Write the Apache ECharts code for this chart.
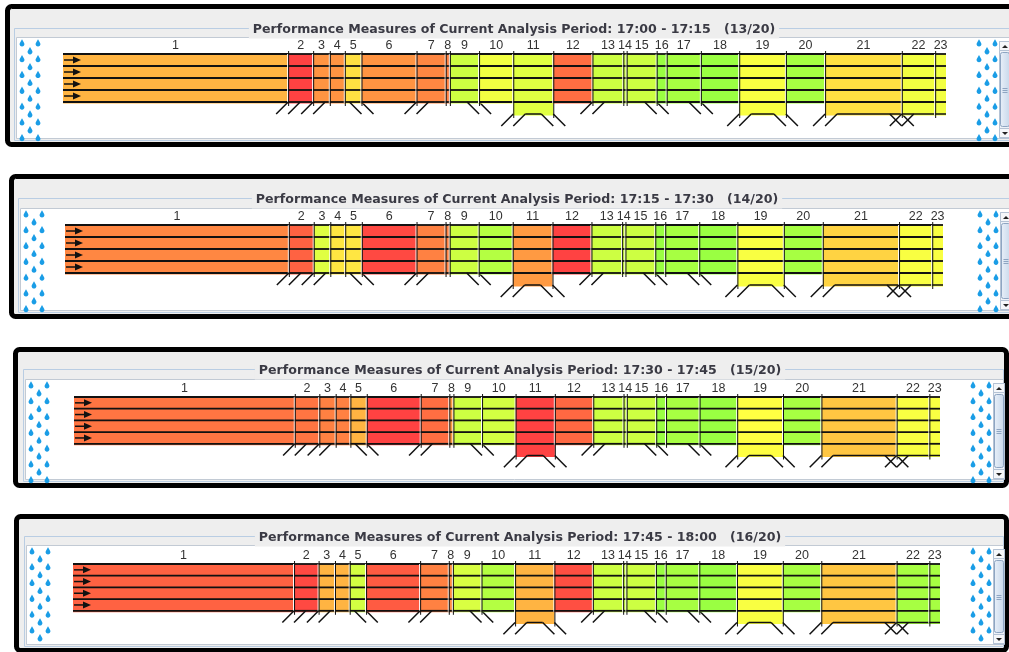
<!DOCTYPE html>
<html><head><meta charset="utf-8">
<script src="https://cdn.jsdelivr.net/npm/echarts@6/dist/echarts.min.js"></script>
<style>html,body{margin:0;padding:0;background:#fff}#c{width:1009px;height:652px}</style>
</head><body><div id="c"></div>
<script>
// ---------------- DATA ----------------
const segmentNumbers = ['1','2','3','4','5','6','7','8','9','10','11','12','13','14','15','16','17','18','19','20','21','22','23'];
const segmentLengthsFt = [2700,300,200,180,200,660,350,50,350,410,480,470,370,40,360,120,410,460,560,470,920,400,130];
const segmentLanes = [4,4,4,4,4,4,4,4,4,4,5,4,4,4,4,4,4,4,5,4,5,5,5];
// B = basic, ON = on-ramp, OFF = off-ramp, W = weaving
const segmentTypes = ['B','ON','ON','B','OFF','B','ON','B','OFF','B','W','B','ON','B','OFF','B','OFF','B','W','B','W','ON','B'];
const periodLabels = ['17:00 - 17:15','17:15 - 17:30','17:30 - 17:45','17:45 - 18:00'];
const periodNumbers = [13,14,15,16];
const periodTotal = 20;
// segment speeds (mph) per analysis period
const speeds1700 = [38,20,33,33,45,33,31,30,58,52,55,27,58,58,58,66,64,66,51,64,45,52,52];
const speeds1715 = [31,25,55,46,46,21,30,30,58,62,34,20,58,58,58,66,64,66,51,64,43,51,51];
const speeds1730 = [28,28,30,30,38,20,27,34,58,57,20,26,58,58,58,66,64,66,50,64,41,51,51];
const speeds1745 = [25,21,38,38,57,24,30,32,56,62,38,22,58,58,58,66,64,66,51,64,41,64,64];
const periodSpeeds = [speeds1700, speeds1715, speeds1730, speeds1745];

// ---------------- LAYOUT ----------------
const panels = [
  {fx:5,  fy:4,   fr:1030, fb:147, wl:17, wt:38,  wb:139, sx:999,  tx:514, ty:29,  rl:63, rr:946, rt:54,  lh:12},
  {fx:9,  fy:174, fr:1030, fb:319, wl:21, wt:209, wb:311, sx:1000, tx:517, ty:199, rl:65, rr:943, rt:225, lh:12},
  {fx:13, fy:347, fr:1009, fb:488, wl:26, wt:380, wb:480, sx:993,  tx:520, ty:370, rl:74, rr:940, rt:397, lh:11.7},
  {fx:14, fy:514, fr:1009, fb:653, wl:27, wt:546, wb:645, sx:993,  tx:520, ty:537, rl:73, rr:940, rt:564, lh:11.7}
];

const starts = [];
let acc = 0;
segmentLengthsFt.forEach(l => { starts.push(acc); acc += l; });
const totalLen = acc;

function speedColor(s) {
  let h = Math.max(0, Math.min(100, (s - 20) * 2));
  return 'hsl(' + h.toFixed(1) + ',100%,63%)';
}

const INK = '#111';
function renderSeg(params, api) {
  const i = params.dataIndex;
  const x0v = api.value(0), x1v = api.value(1), spd = api.value(2);
  const n = segmentLanes[i];
  const type = segmentTypes[i];
  const prevN = i > 0 ? segmentLanes[i - 1] : 4;
  const nextN = i < segmentLanes.length - 1 ? segmentLanes[i + 1] : 5;
  const p0 = api.coord([x0v, 0]);
  const p1 = api.coord([x1v, 0]);
  const x0 = p0[0], x1 = p1[0], top = p0[1];
  const lh = api.coord([x0v, 1])[1] - top;
  const bn = api.coord([x0v, n])[1];
  const ch = [];
  ch.push({type:'rect', shape:{x:x0, y:top, width:x1 - x0, height:bn - top + 1.5}, style:{fill:speedColor(spd)}});
  if (i > 0) {
    ch.push({type:'line', shape:{x1:x0 - 0.5, y1:top, x2:x0 - 0.5, y2:bn + 1}, style:{stroke:'#fff', lineWidth:1}});
  }
  for (let k = 0; k <= 4; k++) {
    const y = api.coord([x0v, k])[1];
    ch.push({type:'line', shape:{x1:x0, y1:y, x2:x1, y2:y}, style:{stroke:INK, lineWidth:1.8}});
  }
  if (n === 5) {
    const onSide = (type === 'ON' || type === 'W') && prevN !== 5;
    const offSide = (type === 'OFF' || type === 'W') && nextN !== 5;
    const a = x0 + (onSide ? lh : 0), b = x1 - (offSide ? lh : 0);
    ch.push({type:'line', shape:{x1:a, y1:bn, x2:b, y2:bn}, style:{stroke:INK, lineWidth:1.5}});
  }
  if (i > 0) {
    const prevB = api.coord([x0v, prevN])[1];
    const bb = Math.max(bn, prevB);
    ch.push({type:'line', shape:{x1:x0 + 0.5, y1:top - 3, x2:x0 + 0.5, y2:bb + 4}, style:{stroke:INK, lineWidth:1}});
  }
  const rs = {stroke:INK, lineWidth:1.5};
  if (type === 'ON' || type === 'W') {
    ch.push({type:'line', shape:{x1:x0 - lh, y1:bn + lh, x2:x0, y2:bn}, style:rs});
    ch.push({type:'line', shape:{x1:x0, y1:bn + lh, x2:x0 + lh, y2:bn}, style:rs});
  }
  if (type === 'OFF' || type === 'W') {
    ch.push({type:'line', shape:{x1:x1 - lh, y1:bn, x2:x1, y2:bn + lh}, style:rs});
    ch.push({type:'line', shape:{x1:x1, y1:bn, x2:x1 + lh, y2:bn + lh}, style:rs});
  }
  if (i === 0) {
    for (let k = 0; k < 4; k++) {
      const yc = api.coord([x0v, k + 0.5])[1];
      ch.push({type:'line', shape:{x1:x0 + 1, y1:yc, x2:x0 + 11, y2:yc}, style:{stroke:INK, lineWidth:1.5}});
      ch.push({type:'polygon', shape:{points:[[x0 + 10, yc - 3.5], [x0 + 18, yc], [x0 + 10, yc + 3.5]]}, style:{fill:INK}});
    }
  }
  ch.push({type:'text', style:{text:segmentNumbers[i], x:(x0 + x1) / 2, y:top - 8.5, align:'center', verticalAlign:'middle',
    font:'12.5px "Liberation Sans", Arial, sans-serif', fill:'#333'}});
  return {type:'group', children:ch};
}

// teardrop outline (relative points)
const dropPts = [[0, -3.8]];
for (let a = -35; a <= 215; a += 25) {
  const r = a * Math.PI / 180;
  dropPts.push([2.4 * Math.cos(r), 1.1 + 2.4 * Math.sin(r)]);
}

const grids = [], xAxes = [], yAxes = [], series = [], graphics = [];

panels.forEach((p, pi) => {
  grids.push({left:p.rl, top:p.rt, width:p.rr - p.rl, height:5 * p.lh, containLabel:false});
  xAxes.push({type:'value', gridIndex:pi, min:0, max:totalLen, show:false});
  yAxes.push({type:'value', gridIndex:pi, min:0, max:5, inverse:true, show:false});
  series.push({
    type:'custom', xAxisIndex:pi, yAxisIndex:pi, z:10, clip:false, silent:true,
    renderItem:renderSeg,
    data: periodSpeeds[pi].map((s, i) => [starts[i], starts[i] + segmentLengthsFt[i], s])
  });
  // frame
  graphics.push({type:'rect', z:0, shape:{x:p.fx + 2.5, y:p.fy + 2.5, width:p.fr - p.fx - 5, height:p.fb - p.fy - 5, r:4},
    style:{fill:'#eeeeee', stroke:'#000', lineWidth:5}});
  // titled border
  graphics.push({type:'rect', z:1, shape:{x:p.wl - 2.5, y:p.ty - 0.5, width:p.sx + 13 - p.wl, height:p.wb + 2 - p.ty},
    style:{fill:null, stroke:'#b9cde3', lineWidth:1}});
  // white area
  graphics.push({type:'rect', z:1, shape:{x:p.wl - 0.5, y:p.wt - 0.5, width:p.sx + 11 - p.wl, height:p.wb - p.wt},
    style:{fill:'#ffffff', stroke:'#c2cad4', lineWidth:1}});
  // title
  graphics.push({type:'text', z:2, style:{
    text:'Performance Measures of Current Analysis Period: ' + periodLabels[pi] + '   (' + periodNumbers[pi] + '/' + periodTotal + ')',
    x:p.tx, y:p.ty + 1, align:'center', verticalAlign:'middle', font:'bold 12.6px "DejaVu Sans", sans-serif', fill:'#3a3a44',
    backgroundColor:'#eeeeee', padding:[2, 4]}});
  // rain drops
  let r = 0;
  for (let y = p.wt + 5; y < p.wb; y += 7.9, r++) {
    const lx = r % 2 === 0 ? [p.wl + 5, p.wl + 21] : [p.wl + 13];
    const rx = r % 2 === 0 ? [p.sx - 20, p.sx - 4] : [p.sx - 12];
    lx.concat(rx).forEach(x => {
      graphics.push({type:'polygon', z:2, shape:{points:dropPts.map(q => [x + q[0], y + q[1]])}, style:{fill:'#1a9de6'}});
    });
  }
  // scrollbar
  const st = p.wt + 3, sb = p.wb - 1, sx = p.sx;
  graphics.push({type:'rect', z:3, shape:{x:sx + 0.5, y:st + 0.5, width:11, height:sb - st}, style:{fill:'#eef2f8', stroke:'#b4c2d4'}});
  graphics.push({type:'rect', z:3, shape:{x:sx + 0.5, y:st + 0.5, width:11, height:9}, style:{fill:'#f5f7fa', stroke:'#b4c2d4'}});
  graphics.push({type:'polygon', z:4, shape:{points:[[sx + 3, st + 7], [sx + 9, st + 7], [sx + 6, st + 4]]}, style:{fill:'#222'}});
  graphics.push({type:'rect', z:3, shape:{x:sx + 0.5, y:sb - 9.5, width:11, height:9}, style:{fill:'#f5f7fa', stroke:'#b4c2d4'}});
  graphics.push({type:'polygon', z:4, shape:{points:[[sx + 3, sb - 6], [sx + 9, sb - 6], [sx + 6, sb - 3]]}, style:{fill:'#222'}});
  graphics.push({type:'rect', z:3, shape:{x:sx + 1.5, y:st + 11.5, width:9, height:sb - st - 23, r:2},
    style:{fill:new echarts.graphic.LinearGradient(0, 0, 1, 0, [{offset:0, color:'#e9f0f9'}, {offset:1, color:'#c7d7ea'}]), stroke:'#8ea5c2'}});
  const cy = Math.round((st + sb) / 2);
  [-2, 0, 2].forEach(d => graphics.push({type:'line', z:4, shape:{x1:sx + 3.5, y1:cy + d + 0.5, x2:sx + 8.5, y2:cy + d + 0.5}, style:{stroke:'#8ea5c2', lineWidth:1}}));
});

const chart = echarts.init(document.getElementById('c'), null, {renderer:'canvas', width:1009, height:652});
chart.setOption({
  animation:false,
  backgroundColor:'#ffffff',
  grid:grids, xAxis:xAxes, yAxis:yAxes, series:series, graphic:graphics
});
</script>
</body></html>
